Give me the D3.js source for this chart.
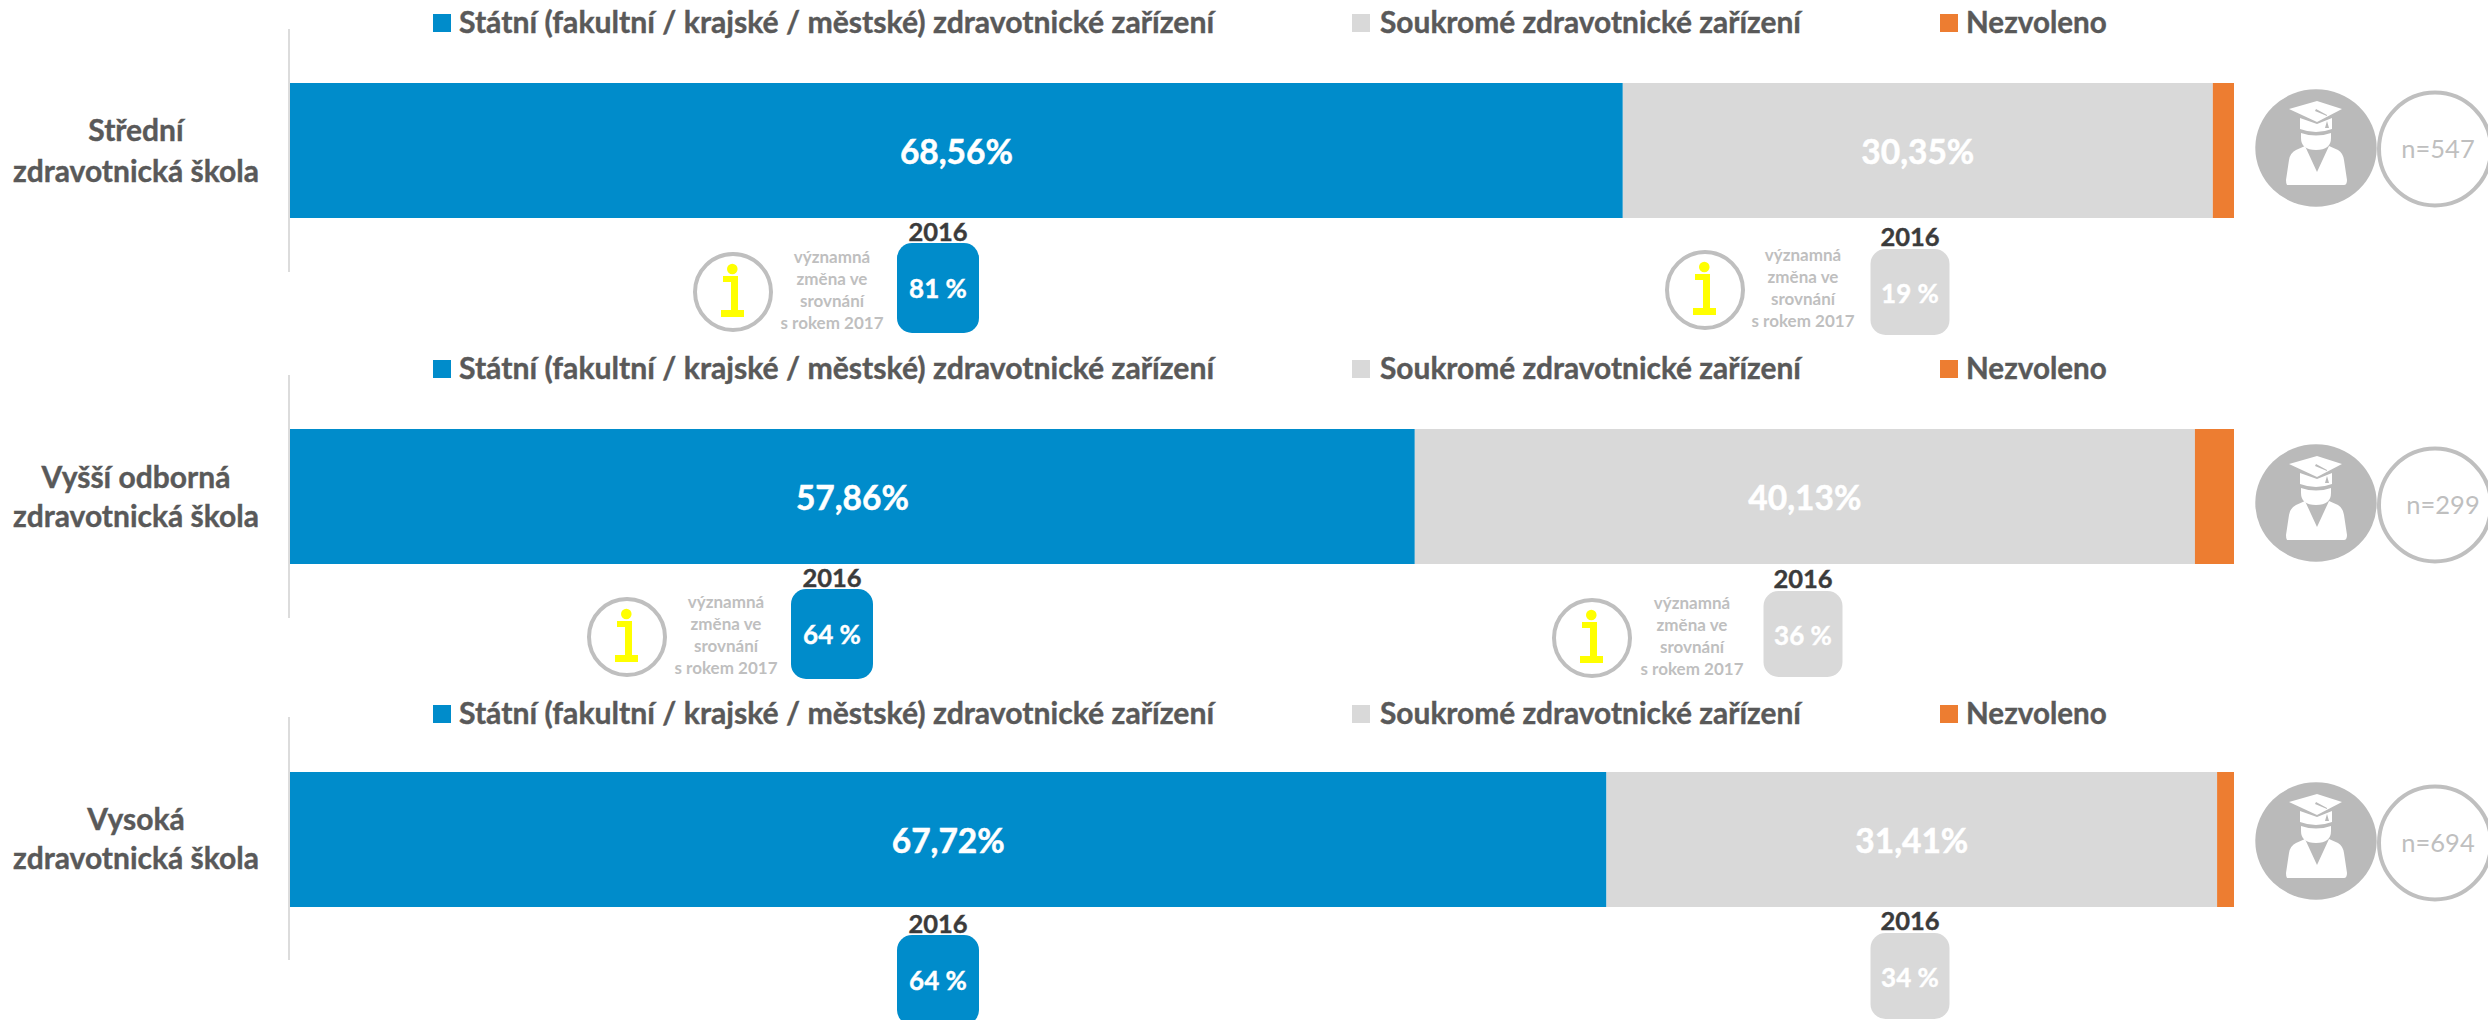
<!DOCTYPE html>
<html lang="cs">
<head>
<meta charset="utf-8">
<script src="https://cdn.jsdelivr.net/npm/d3@7/dist/d3.min.js"></script>
<style>
html,body{margin:0;padding:0;background:#fff;overflow:hidden}
text{font-family:Lato,"Open Sans",sans-serif}
</style>
</head>
<body>
<svg id="chart" width="2488" height="1020"></svg>
<script>
// ---- data ----
const categories = ["Střední zdravotnická škola", "Vyšší odborná zdravotnická škola", "Vysoká zdravotnická škola"];
const categoryLines = [["Střední", "zdravotnická škola"], ["Vyšší odborná", "zdravotnická škola"], ["Vysoká", "zdravotnická škola"]];
const seriesNames = ["Státní (fakultní / krajské / městské) zdravotnické zařízení", "Soukromé zdravotnické zařízení", "Nezvoleno"];
const statni = [68.56, 57.86, 67.72];
const soukrome = [30.35, 40.13, 31.41];
const nezvoleno = [1.09, 2.01, 0.87];
const respondents = [547, 299, 694];
const statni2016 = [81, 64, 64];
const soukrome2016 = [19, 36, 34];
const significant = [true, true, false];
const noteLines = ["významná", "změna ve", "srovnání", "s rokem 2017"];
const prevYear = "2016";

// ---- layout (not data) ----
const colors = ["#008ccb", "#d9d9d9", "#ed7d31"];
const fmt = v => v.toFixed(2).replace(".", ",") + "%";
const svg = d3.select("#chart");
const x = d3.scaleLinear().domain([0, 100]).range([290, 2234]);
const barTop = d3.scaleOrdinal(categories, [83, 429, 772]);
const barH = 135;
const axisSpan = d3.scaleOrdinal(categories, [[29, 272], [375, 618], [717, 960]]);
const legendY = d3.scaleOrdinal(categories, [22.5, 368.5, 713.5]);
const labelY = d3.scaleOrdinal(categories, [[130, 171], [477, 516], [819, 858]]);
const legendSwatch = [433, 1352, 1940];
const legendText = [459, 1380, 1966];
const legendSize = [30.2, 29.9, 29.6];
const badgeLayout = {
  s: {cx: d3.scaleOrdinal(categories, [938, 832, 938]), top: d3.scaleOrdinal(categories, [243, 589, 935]),
      w: 82, h: 90, yearDy: -10.5, valueDy: 46, noteX: [733, 627, 0], noteY: [292, 637, 0], noteTextX: [832, 726, 0]},
  p: {cx: d3.scaleOrdinal(categories, [1910, 1803, 1910]), top: d3.scaleOrdinal(categories, [249, 591, 933]),
      w: 79, h: 86, yearDy: -12, valueDy: 44.5, noteX: [1705, 1592, 0], noteY: [290, 638, 0], noteTextX: [1803, 1692, 0]}
};
const iconY = d3.scaleOrdinal(categories, [148, 503, 841]);
const nCircleY = d3.scaleOrdinal(categories, [149, 505, 843]);
const nTextX = d3.scaleOrdinal(categories, [2438, 2443, 2438]);

const rows = categories.map((c, i) => ({cat: c, s: statni[i], p: soukrome[i], u: nezvoleno[i], i}));
const stack = d3.stack().keys(["s", "p", "u"]);
const layers = stack(rows);

// axis lines
svg.selectAll(".axis").data(categories).join("line").attr("class", "axis")
  .attr("x1", x(0) - 1).attr("x2", x(0) - 1)
  .attr("y1", d => axisSpan(d)[0]).attr("y2", d => axisSpan(d)[1])
  .attr("stroke", "#dcdcdc").attr("stroke-width", 2);

// bars
layers.forEach((layer, k) => {
  svg.selectAll(".b" + k).data(layer).join("rect").attr("class", "b" + k)
    .attr("x", d => x(d[0])).attr("width", d => x(d[1]) - x(d[0]))
    .attr("y", d => barTop(d.data.cat)).attr("height", barH)
    .attr("fill", colors[k]);
  if (k < 2) {
    svg.selectAll(".v" + k).data(layer).join("text").attr("class", "v" + k)
      .attr("x", d => (x(d[0]) + x(d[1])) / 2)
      .attr("y", d => barTop(d.data.cat) + barH / 2 + 1.5)
      .attr("dy", "0.35em").attr("text-anchor", "middle")
      .attr("font-size", 33.5).attr("font-weight", 700).attr("fill", "#fff")
      .attr("stroke", "#fff").attr("stroke-width", 0.5)
      .text(d => fmt(d[1] - d[0]));
  }
});

// category labels
categories.forEach((c, i) => {
  categoryLines[i].forEach((t, j) => {
    svg.append("text").attr("x", 136).attr("y", labelY(c)[j]).attr("dy", "0.35em")
      .attr("text-anchor", "middle").attr("font-size", 30).attr("font-weight", 700)
      .attr("fill", "#595959").attr("stroke", "#595959").attr("stroke-width", 0.4).text(t);
  });
  // legend
  seriesNames.forEach((name, k) => {
    svg.append("rect").attr("x", legendSwatch[k]).attr("y", legendY(c) - 8.5)
      .attr("width", 18).attr("height", 18).attr("fill", colors[k]);
    svg.append("text").attr("x", legendText[k]).attr("y", legendY(c)).attr("dy", "0.35em")
      .attr("font-size", legendSize[k]).attr("font-weight", 700).attr("fill", "#595959")
      .attr("stroke", "#595959").attr("stroke-width", 0.4).text(name);
  });
});

// 2016 badges and significance notes
function badge(c, i, layout, value, fill, noted) {
  const cx = layout.cx(c), top = layout.top(c);
  svg.append("rect").attr("x", cx - layout.w / 2).attr("y", top).attr("width", layout.w).attr("height", layout.h)
    .attr("rx", 15).attr("ry", 15).attr("fill", fill);
  svg.append("text").attr("x", cx).attr("y", top + layout.yearDy).attr("dy", "0.35em").attr("text-anchor", "middle")
    .attr("font-size", 25.5).attr("font-weight", 700).attr("fill", "#3b3b3b")
    .attr("stroke", "#3b3b3b").attr("stroke-width", 0.4).text(prevYear);
  svg.append("text").attr("x", cx).attr("y", top + layout.valueDy).attr("dy", "0.35em").attr("text-anchor", "middle")
    .attr("font-size", 26).attr("font-weight", 700).attr("fill", "#fff")
    .attr("stroke", "#fff").attr("stroke-width", 0.4).text(value + " %");
  if (noted) {
    const g = svg.append("g").attr("transform", `translate(${layout.noteX[i]},${layout.noteY[i]})`);
    g.append("circle").attr("r", 38).attr("fill", "#fff").attr("stroke", "#bfbfbf").attr("stroke-width", 4);
    g.append("circle").attr("cx", -0.7).attr("cy", -23).attr("r", 5.3).attr("fill", "#ffff00");
    g.append("path").attr("fill", "#ffff00")
      .attr("d", "M-10,-16H5V18H11V25H-12V18H-2V-10H-10Z");
    noteLines.forEach((t, j) => {
      g.append("text").attr("x", layout.noteTextX[i] - layout.noteX[i]).attr("y", -35 + j * 22).attr("dy", "0.35em").attr("text-anchor", "middle")
        .attr("font-size", 17).attr("font-weight", 700).attr("fill", "#bfbfbf").text(t);
    });
  }
}
categories.forEach((c, i) => {
  badge(c, i, badgeLayout.s, statni2016[i], colors[0], significant[i]);
  badge(c, i, badgeLayout.p, soukrome2016[i], colors[1], significant[i]);
});

// graduate icon and n circle
const iconBody = "M-29,37Q-30,36 -30,32L-27,12Q-26,5 -20,2L-11,-2L1,24L13,-2L22,2Q27,5 28,12L31,32Q31,37 28,37Z";
const iconCap = "M-27,-39L1,-47L26,-39L1,-26Z";
const iconBand = "M-16,-30L1,-24L16,-30V-19Q0,-13 -16,-19Z";
const iconFace = "M-15,-15Q0,-10 15,-15V-10Q15,2 0,2Q-15,2 -15,-10Z";
const iconTassel = "M0,-39L11,-33V-27L13,-20H9L11,-27V-32L-1,-37Z";
categories.forEach((c, i) => {
  svg.append("ellipse").attr("cx", 2316).attr("cy", iconY(c)).attr("rx", 60.7).attr("ry", 58.7).attr("fill", "#bababa");
  const g = svg.append("g").attr("transform", `translate(2316,${iconY(c)})`);
  [iconBody, iconCap, iconBand, iconFace].forEach(d => g.append("path").attr("d", d).attr("fill", "#fff"));
  g.append("path").attr("d", iconTassel).attr("fill", "#bababa");
  svg.append("ellipse").attr("cx", 2435).attr("cy", nCircleY(c)).attr("rx", 56).attr("ry", 56.5)
    .attr("fill", "none").attr("stroke", "#bfbfbf").attr("stroke-width", 4);
  svg.append("text").attr("x", nTextX(c)).attr("y", nCircleY(c)).attr("dy", "0.35em").attr("text-anchor", "middle")
    .attr("font-size", 25.5).attr("fill", "#bfbfbf").text("n=" + respondents[i]);
});
</script>
</body>
</html>
